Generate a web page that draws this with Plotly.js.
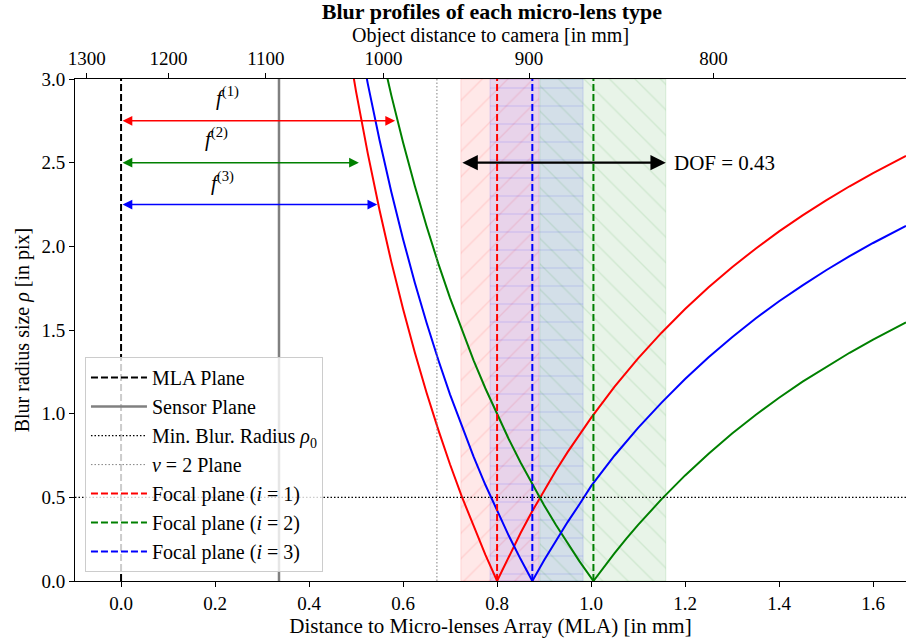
<!DOCTYPE html>
<html>
<head>
<meta charset="utf-8">
<script src="https://cdn.plot.ly/plotly-3.0.1.min.js"></script>
<style>html,body{margin:0;padding:0;background:#fff;}#chart{width:906px;height:641px;}</style>
</head>
<body>
<div id="chart"></div>
<script>
// ---------- data ----------
const lensColors = ['red', 'green', 'blue'];
const lensLabels = ['Focal plane (<i>i</i> = 1)', 'Focal plane (<i>i</i> = 2)', 'Focal plane (<i>i</i> = 3)'];
const focalLength = [0.583, 0.506, 0.545];     // micro-lens focal lengths f^(i) [mm]
const focalPlane = [0.800, 1.005, 0.875];      // focal plane of each lens type [mm]
const dofLow = [0.723, 0.891, 0.785];          // where blur <= rho0 (start)
const dofHigh = [0.889, 1.159, 0.983];         // where blur <= rho0 (end)
const hatchShape = ['/', '\\', '-'];
const mlaPlane = 0.0;
const sensorPlane = 0.336;
const nu2Plane = 0.672;
const rho0 = 0.5;
const dofValue = 0.43;

// blur profile samples (x: distance to MLA [mm], y: blur radius [pix])
const redX = [0.475,0.500,0.525,0.550,0.575,0.600,0.625,0.650,0.675,0.700,0.725,0.750,0.775,0.800,0.825,0.850,0.875,0.900,0.925,0.950,0.975,1.000,1.050,1.100,1.150,1.200,1.250,1.300,1.350,1.400,1.450,1.500,1.550,1.600,1.670];
const redY = [3.336,2.925,2.554,2.216,1.907,1.625,1.365,1.125,0.903,0.696,0.504,0.325,0.157,0.000,0.148,0.287,0.418,0.542,0.659,0.770,0.875,0.975,1.161,1.330,1.484,1.625,1.755,1.875,1.986,2.089,2.185,2.275,2.359,2.438,2.540];
const greenX = [0.550,0.575,0.600,0.625,0.650,0.675,0.700,0.725,0.750,0.775,0.800,0.825,0.850,0.875,0.900,0.925,0.950,0.975,1.005,1.025,1.050,1.075,1.100,1.150,1.200,1.250,1.300,1.350,1.400,1.450,1.500,1.550,1.600,1.670];
const greenY = [3.210,2.902,2.620,2.360,2.120,1.897,1.691,1.499,1.319,1.152,0.995,0.847,0.708,0.577,0.453,0.336,0.225,0.119,0.000,0.076,0.166,0.253,0.335,0.489,0.631,0.761,0.881,0.992,1.095,1.191,1.280,1.364,1.443,1.545];
const blueX = [0.500,0.525,0.550,0.575,0.600,0.625,0.650,0.675,0.700,0.725,0.750,0.775,0.800,0.825,0.850,0.875,0.900,0.925,0.950,0.975,1.000,1.050,1.100,1.150,1.200,1.250,1.300,1.350,1.400,1.450,1.500,1.550,1.600,1.670];
const blueY = [3.343,2.971,2.634,2.325,2.043,1.783,1.543,1.321,1.114,0.922,0.743,0.575,0.418,0.270,0.131,0.000,0.124,0.241,0.352,0.457,0.567,0.750,0.915,1.066,1.207,1.337,1.457,1.569,1.672,1.767,1.857,1.941,2.020,2.122];

// top axis: object distance to camera [mm]
const objectDistTicks = [1300, 1200, 1100, 1000, 900, 800];
const mainLensF = 50;          // mm
const mlaOffset = 52.073;      // image distance of the MLA reference

// ---------- layout constants ----------
const xRange = [-0.098, 1.67];
const yRange = [0, 3];
const arrowY = [2.75, 2.5, 2.25];
const fLabelX = [0.226, 0.204, 0.215];
const fLabelY = [2.895, 2.65, 2.39];
const FONT = 'Liberation Serif, Times New Roman, serif';

const curves = [[redX, redY], [greenX, greenY], [blueX, blueY]];
const fillRGB = ['255,0,0', '0,128,0', '0,0,255'];

const traces = [];
// shaded DOF regions (hatched bars)
[0, 2, 1].forEach(i => {
  traces.push({
    type: 'bar', x: [(dofLow[i] + dofHigh[i]) / 2], y: [yRange[1]], base: [yRange[0]],
    width: [dofHigh[i] - dofLow[i]], showlegend: false, hoverinfo: 'skip',
    marker: {
      color: 'rgba(' + fillRGB[i] + ',0.09)',
      line: {color: 'rgba(' + fillRGB[i] + ',0.12)', width: 1},
      pattern: {shape: hatchShape[i], size: 18, solidity: 0.07,
                fgcolor: 'rgba(' + fillRGB[i] + ',0.5)', bgcolor: 'rgba(' + fillRGB[i] + ',0.09)', fgopacity: 0.22}
    }
  });
});
// blur profile curves
curves.forEach((c, i) => {
  traces.push({type: 'scatter', mode: 'lines', x: c[0], y: c[1], showlegend: false, hoverinfo: 'skip',
    line: {color: lensColors[i], width: 2}});
});
// legend items
traces.push({type: 'scatter', mode: 'lines', name: 'MLA Plane', legendgroup: 'a',
  x: [mlaPlane, mlaPlane], y: yRange, line: {color: 'black', width: 2, dash: '7px,3px'}});
traces.push({type: 'scatter', mode: 'lines', name: 'Sensor Plane', legendgroup: 'b',
  x: [sensorPlane, sensorPlane], y: yRange, line: {color: 'gray', width: 2.5}});
traces.push({type: 'scatter', mode: 'lines', name: 'Min. Blur. Radius <i>ρ</i><sub>0</sub>', legendgroup: 'c',
  x: xRange, y: [rho0, rho0], line: {color: 'black', width: 1.2, dash: '1.5px,2px'}});
traces.push({type: 'scatter', mode: 'lines', name: '<i>ν</i> = 2 Plane', legendgroup: 'd',
  x: [nu2Plane, nu2Plane], y: yRange, line: {color: 'gray', width: 1, dash: '1.5px,2px'}});
lensColors.forEach((c, i) => {
  traces.push({type: 'scatter', mode: 'lines', name: lensLabels[i], legendgroup: 'e' + i,
    x: [focalPlane[i], focalPlane[i]], y: yRange, line: {color: c, width: 2, dash: '7px,3px'}});
});

// annotations: focal length arrows, labels, DOF arrow
const annotations = [];
lensColors.forEach((c, i) => {
  annotations.push({x: focalLength[i], y: arrowY[i], ax: mlaPlane, ay: arrowY[i],
    xref: 'x', yref: 'y', axref: 'x', ayref: 'y', text: '', showarrow: true,
    arrowhead: 2, startarrowhead: 2, arrowside: 'end+start', arrowsize: 1.3, startarrowsize: 1.3,
    arrowwidth: 1.5, arrowcolor: c, standoff: 0, startstandoff: 0});
  annotations.push({x: fLabelX[i], y: fLabelY[i], xref: 'x', yref: 'y', showarrow: false,
    text: '<i>f</i><sup>(' + (i + 1) + ')</sup>', font: {family: FONT, size: 21, color: 'black'}});
});
const dofMin = Math.min(...dofLow), dofMax = Math.max(...dofHigh);
annotations.push({x: dofMax, y: 2.5, ax: dofMin, ay: 2.5, xref: 'x', yref: 'y', axref: 'x', ayref: 'y',
  text: '', showarrow: true, arrowhead: 2, startarrowhead: 2, arrowside: 'end+start',
  arrowsize: 1.4, startarrowsize: 1.4, arrowwidth: 2.2, arrowcolor: 'black', standoff: 0, startstandoff: 0});
annotations.push({x: dofMax + 0.013, y: 2.5, xref: 'x', yref: 'y', xanchor: 'left', showarrow: false,
  text: 'DOF = ' + dofValue.toFixed(2), font: {family: FONT, size: 21, color: 'black'}});

// top axis tick positions from thin-lens relation
const topTickVals = objectDistTicks.map(d => mainLensF * d / (d - mainLensF) - mlaOffset);

const layout = {
  width: 906, height: 641,
  margin: {l: 75, r: 0, t: 79, b: 60},
  paper_bgcolor: 'white', plot_bgcolor: 'white',
  font: {family: FONT, size: 19, color: 'black'},
  barmode: 'overlay', bargap: 0,
  title: {text: '<b>Blur profiles of each micro-lens type</b>', x: 0.543, xref: 'container', xanchor: 'center',
    y: 0.983, yref: 'container', yanchor: 'middle', font: {family: FONT, size: 22, color: 'black'}},
  xaxis: {range: xRange, tickvals: [0, 0.2, 0.4, 0.6, 0.8, 1.0, 1.2, 1.4, 1.6], tickformat: '.1f',
    ticks: 'outside', ticklen: 5, tickcolor: 'black', showline: true, linecolor: 'black', linewidth: 1,
    showgrid: false, zeroline: false, mirror: false,
    tickfont: {size: 19}, title: {text: 'Distance to Micro-lenses Array (MLA) [in mm]', font: {size: 21}, standoff: 4}},
  xaxis2: {range: xRange, overlaying: 'x', side: 'top', anchor: 'y', tickvals: topTickVals,
    ticktext: objectDistTicks.map(String), ticks: 'outside', ticklen: 5, tickcolor: 'black',
    showline: true, linecolor: 'black', linewidth: 1, showgrid: false, zeroline: false,
    tickfont: {size: 19}, title: {text: 'Object distance to camera [in mm]', font: {size: 20}, standoff: 0}},
  yaxis: {range: yRange, tickvals: [0, 0.5, 1, 1.5, 2, 2.5, 3], tickformat: '.1f',
    ticks: 'outside', ticklen: 5, tickcolor: 'black', showline: true, linecolor: 'black', linewidth: 1,
    showgrid: false, zeroline: false, tickfont: {size: 19},
    title: {text: 'Blur radius size <i>ρ</i> [in pix]', font: {size: 20}, standoff: 6}},
  legend: {x: 0.012, y: 0.446, xanchor: 'left', yanchor: 'top', bgcolor: 'rgba(255,255,255,0.8)',
    bordercolor: '#cccccc', borderwidth: 1, font: {family: FONT, size: 20, color: 'black'},
    traceorder: 'grouped', tracegroupgap: 0, itemwidth: 56},
  annotations: annotations,
  showlegend: true, hovermode: false
};
// an invisible trace to activate the top axis
traces.push({type: 'scatter', mode: 'lines', x: xRange, y: [-1, -1], xaxis: 'x2', yaxis: 'y',
  showlegend: false, hoverinfo: 'skip', line: {width: 0}});

Plotly.newPlot('chart', traces, layout, {displayModeBar: false, staticPlot: true});
</script>
</body>
</html>
